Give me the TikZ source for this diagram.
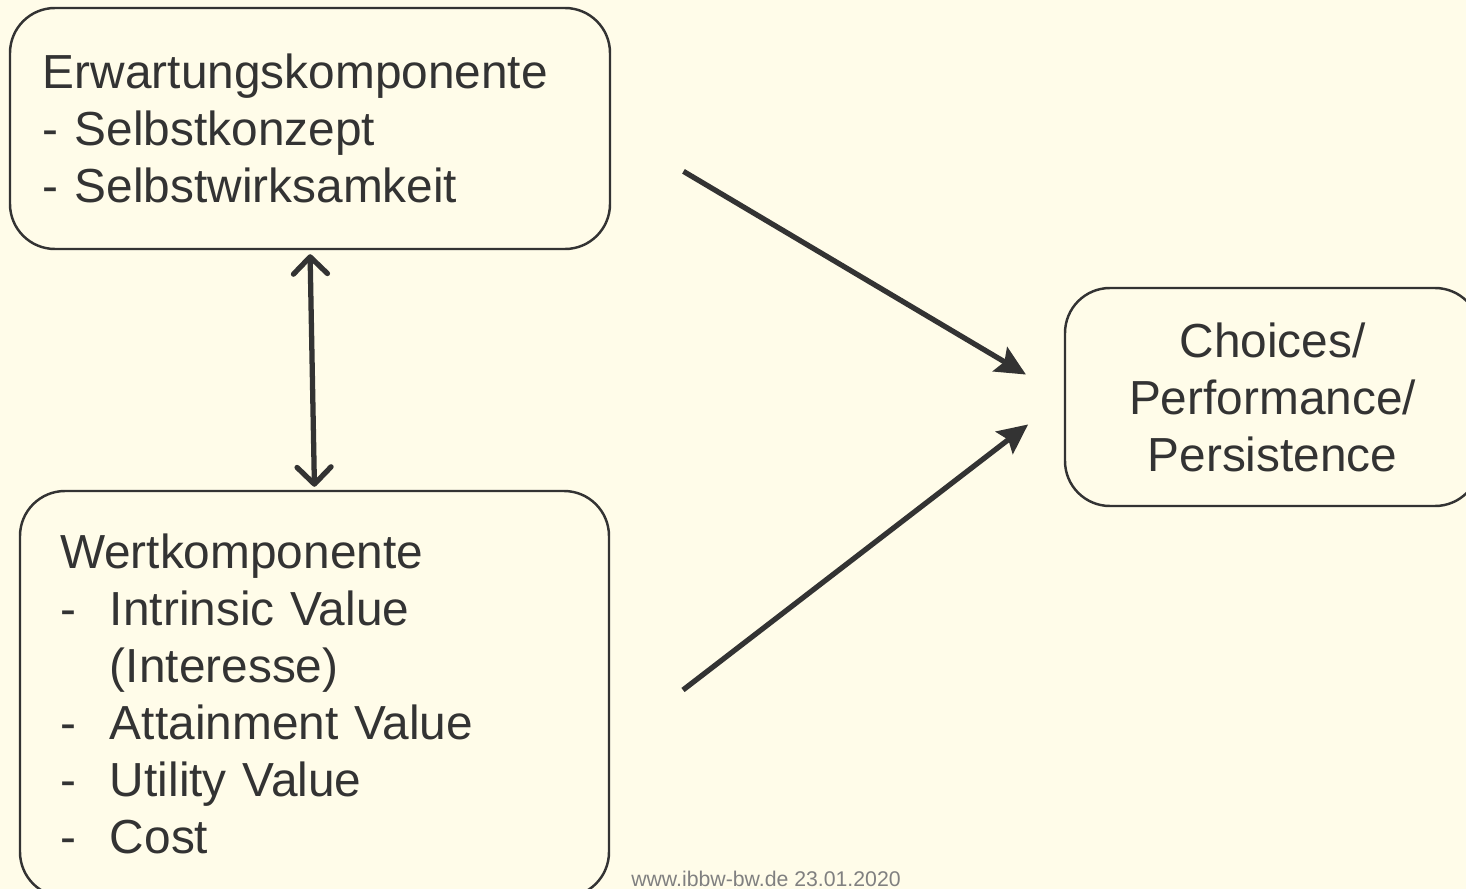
\documentclass[tikz,border=0pt]{standalone}
\usepackage{fontspec}
\setmainfont{Liberation Sans}
\usetikzlibrary{positioning,arrows.meta,calc}
\definecolor{bgyellow}{HTML}{FFFCE9}
\definecolor{inkgray}{HTML}{333333}

\begin{document}
\begin{tikzpicture}[
        every node/.style={font=\fontsize{13.6}{16.2}\selectfont, text=inkgray},
        box/.style={rectangle, rounded corners=0.45cm, draw=inkgray, line width=0.7pt, align=left, inner ysep=0pt},
        line/.style={draw=inkgray, line width=1.5pt, -{Stealth[length=0.3cm,width=0.28cm,inset=0.05cm]}},
        both/.style={draw=inkgray, line width=1.5pt, line cap=round, {Straight Barb[length=0.17cm,width=0.34cm,round]}-{Straight Barb[length=0.17cm,width=0.34cm,round]}}
    ]
        \useasboundingbox (0,0) rectangle (14.66,-8.89);
        \clip (0,0) rectangle (14.66,-8.89);
        \fill[bgyellow] (0,0) rectangle (14.66,-8.89);
        \node[box, text width=5.34cm, inner xsep=0.33cm, minimum height=2.41cm] (erw) at (3.10,-1.285) {Erwartungskomponente\\- Selbstkonzept\\- Selbstwirksamkeit};
        \node[box, text width=5.09cm, inner xsep=0.40cm, minimum height=4.06cm] (wert) at (3.145,-6.94) {Wertkomponente\\\makebox[0.5cm][l]{-}Intrinsic Value\\\makebox[0.5cm][l]{}(Interesse)\\\makebox[0.5cm][l]{-}Attainment Value\\\makebox[0.5cm][l]{-}Utility Value\\\makebox[0.5cm][l]{-}Cost};
        \node[box, align=center, minimum width=4.15cm, minimum height=2.18cm] (choice) at (12.725,-3.97) {Choices/\\Performance/\\Persistence};
        \node[anchor=base, font=\fontsize{6.05}{7}\selectfont, text=gray] (web) at (7.66,-8.86) {www.ibbw-bw.de 23.01.2020};
        \coordinate (wstart) at (6.83,-6.90);
        \draw[both, shorten <=0.04cm, shorten >=0.03cm] (erw.south) -- (wert.north);
        \draw[line, shorten <=0.84cm, shorten >=0.44cm] (erw.east) -- (choice.west);
        \draw[line, shorten >=0.45cm] (wstart) -- (choice.west);
    \end{tikzpicture}
\end{document}
